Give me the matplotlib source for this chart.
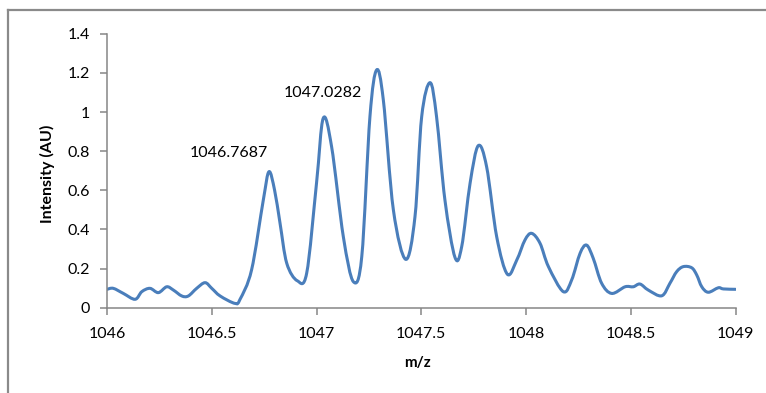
import matplotlib
matplotlib.use("Agg")
import matplotlib.pyplot as plt
from matplotlib.lines import Line2D
from matplotlib.path import Path
from matplotlib.patches import PathPatch

# m/z values and intensities
mz = [1046.000, 1046.030, 1046.078, 1046.134, 1046.166, 1046.205, 1046.245,
      1046.285, 1046.317, 1046.357, 1046.388, 1046.428, 1046.468, 1046.500,
      1046.540, 1046.611, 1046.635, 1046.690, 1046.746, 1046.773, 1046.800,
      1046.826, 1046.858, 1046.908, 1046.953, 1047.000, 1047.032, 1047.072,
      1047.128, 1047.176, 1047.216, 1047.255, 1047.287, 1047.319, 1047.367,
      1047.426, 1047.470, 1047.502, 1047.542, 1047.573, 1047.613, 1047.661,
      1047.693, 1047.733, 1047.772, 1047.812, 1047.860, 1047.911, 1047.956,
      1047.995, 1048.027, 1048.067, 1048.107, 1048.178, 1048.218, 1048.258,
      1048.289, 1048.321, 1048.361, 1048.409, 1048.473, 1048.512, 1048.544,
      1048.584, 1048.648, 1048.687, 1048.719, 1048.751, 1048.791, 1048.815,
      1048.839, 1048.870, 1048.918, 1048.942, 1049.000]
intensity = [0.094, 0.099, 0.073, 0.043, 0.082, 0.099, 0.077,
             0.107, 0.090, 0.060, 0.060, 0.099, 0.128, 0.099,
             0.060, 0.022, 0.043, 0.193, 0.550, 0.695, 0.600,
             0.431, 0.227, 0.138, 0.176, 0.636, 0.968, 0.823,
             0.363, 0.133, 0.261, 0.976, 1.215, 1.061, 0.499,
             0.247, 0.465, 0.976, 1.150, 0.976, 0.550, 0.257,
             0.312, 0.636, 0.828, 0.720, 0.363, 0.171, 0.244,
             0.346, 0.380, 0.329, 0.210, 0.082, 0.142, 0.278,
             0.320, 0.252, 0.125, 0.073, 0.107, 0.107, 0.121,
             0.090, 0.061, 0.125, 0.184, 0.210, 0.204, 0.167,
             0.107, 0.079, 0.102, 0.096, 0.094]

x_ticks = [1046, 1046.5, 1047, 1047.5, 1048, 1048.5, 1049]
x_tick_labels = ["1046", "1046.5", "1047", "1047.5", "1048", "1048.5", "1049"]
y_ticks = [0, 0.2, 0.4, 0.6, 0.8, 1.0, 1.2, 1.4]
y_tick_labels = ["0", "0.2", "0.4", "0.6", "0.8", "1", "1.2", "1.4"]

peak_labels = ["1046.7687", "1047.0282"]
peak_label_pos = [(1046.581, 0.79), (1047.030, 1.096)]

plt.rcParams['font.family'] = ['Lato', 'DejaVu Sans']

fig = plt.figure(figsize=(7.66, 3.93), dpi=100)
ax = fig.add_axes([0.1397, 0.217, 0.8205, 0.6972])


def smooth_path(xs, ys, tension=6.0):
    """Excel-like smoothed line: cubic Bezier segments through the data points."""
    verts = [(xs[0], ys[0])]
    codes = [Path.MOVETO]
    n = len(xs)
    for i in range(n - 1):
        x0, y0 = (xs[i - 1], ys[i - 1]) if i > 0 else (xs[i], ys[i])
        x1, y1 = xs[i], ys[i]
        x2, y2 = xs[i + 1], ys[i + 1]
        x3, y3 = (xs[i + 2], ys[i + 2]) if i + 2 < n else (x2, y2)
        c1 = (x1 + (x2 - x0) / tension, y1 + (y2 - y0) / tension)
        c2 = (x2 - (x3 - x1) / tension, y2 - (y3 - y1) / tension)
        verts += [c1, c2, (x2, y2)]
        codes += [Path.CURVE4, Path.CURVE4, Path.CURVE4]
    return Path(verts, codes)


ax.add_patch(PathPatch(smooth_path(mz, intensity), facecolor='none',
                       edgecolor='#4A7EBB', linewidth=2.2, joinstyle='round',
                       capstyle='round'))

ax.set_xlim(1046, 1049)
ax.set_ylim(0, 1.4)
ax.set_xticks(x_ticks)
ax.set_xticklabels(x_tick_labels)
ax.set_yticks(y_ticks)
ax.set_yticklabels(y_tick_labels)

axis_color = '#868686'
for side in ['top', 'right']:
    ax.spines[side].set_visible(False)
for side in ['left', 'bottom']:
    ax.spines[side].set_color(axis_color)
    ax.spines[side].set_linewidth(1.1)
ax.tick_params(axis='both', direction='out', color=axis_color, width=1.1,
               length=5, labelsize=11.5, labelcolor='black')
ax.tick_params(axis='y', pad=7)
ax.tick_params(axis='x', pad=9)

for txt, (px, py) in zip(peak_labels, peak_label_pos):
    ax.text(px, py, txt, ha='center', va='center', fontsize=11.5, color='black')

fig.text(47 / 766, 1 - 173.5 / 393, "Intensity (AU)", rotation=90, ha='center',
         va='center', fontsize=11.5, fontweight='bold')
fig.text(418 / 766, 1 - 363 / 393, "m/z", ha='center', va='center',
         fontsize=11, fontweight='bold')

# chart-area border (left and top edges visible)
border_color = '#8a8a8a'
fig.add_artist(Line2D([7.5 / 766, 7.5 / 766], [0, 1 - 9.5 / 393],
                      transform=fig.transFigure, color=border_color, linewidth=1.6))
fig.add_artist(Line2D([7.5 / 766, 1], [1 - 9.5 / 393, 1 - 9.5 / 393],
                      transform=fig.transFigure, color=border_color, linewidth=1.6))

fig.savefig("out.png", dpi=100)
